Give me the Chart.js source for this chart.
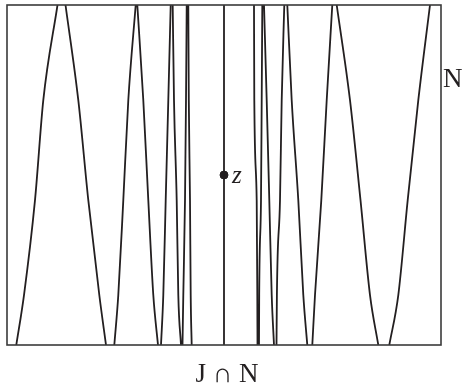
<!DOCTYPE html>
<html>
<head>
<meta charset="utf-8">
<script src="https://cdn.jsdelivr.net/npm/chart.js@4"></script>
<style>
  html, body { margin: 0; padding: 0; background: #fff; }
  #wrap { width: 470px; height: 391px; }
</style>
</head>
<body>
<div id="wrap"><canvas id="myChart" width="470" height="391"></canvas></div>
<script>
// curve: x in picture units, y from 0 (bottom edge) to 1 (top edge);
// null marks where the curve leaves the frame (peak / trough outside the box)
const leftX = [16.3, 24, 35, 43.3, 57.5, 61.5, 65.5, 78.3, 88.3, 99.3, 106, 110,
    114.3, 118.3, 123.3, 128.3, 135.7, 136.5, 137.3, 143.3, 148.3, 153.3, 158, 159.5,
    161, 163.3, 165.7, 168.3, 170.7, 171.7, 172.7, 174, 176.7, 178.3, 181, 181.8,
    182.5, 183.3, 185, 186, 186.7, 187.5, 188.3, 188.8, 190, 190.7, 191.7];
const leftY = [0, 0.147, 0.426, 0.72, 1, null, 1, 0.72, 0.426, 0.147, 0, null,
    0, 0.147, 0.426, 0.72, 1, null, 1, 0.72, 0.426, 0.147, 0, null,
    0, 0.147, 0.426, 0.72, 1, null, 1, 0.72, 0.426, 0.147, 0, null,
    0, 0.147, 0.426, 0.72, 1, null, 1, 0.72, 0.426, 0.147, 0];

const rightX = [254, 254.3, 256.7, 257.3, 257.5, 258.2,
    259, 259.2, 261, 261.7, 262.3, 263.2, 264, 266.7, 269.3, 271.7, 274, 275.3,
    276.5, 276.9, 280, 281.7, 284.3, 285.8, 287.3, 291.7, 298.3, 303.3, 307.3, 309.8,
    312.3, 315, 321.3, 326.7, 332.3, 334.5, 336.7, 350, 360.5, 370, 378.3, 383.8,
    389.3, 398.3, 407.7, 418.3, 430];
const rightY = [1, 0.72, 0.426, 0.147, 0, null,
    0, 0.147, 0.426, 0.72, 1, null, 1, 0.72, 0.426, 0.147, 0, null,
    0, 0.147, 0.426, 0.72, 1, null, 1, 0.72, 0.426, 0.147, 0, null,
    0, 0.147, 0.426, 0.72, 1, null, 1, 0.72, 0.426, 0.147, 0, null,
    0, 0.147, 0.426, 0.72, 1];

const stemX = [224, 224];
const stemY = [0, 1];
const pointZ = { x: 224, y: 0.5 };

const toPoints = (xs, ys) => xs.map((x, i) => ({ x: x, y: ys[i] }));

const INK = '#231f20';

const curveStyle = {
    showLine: true,
    spanGaps: false,
    borderColor: INK,
    borderWidth: 1.8,
    pointRadius: 0,
    cubicInterpolationMode: 'monotone',
    fill: false
};

// frame + text labels
const figurePlugin = {
    id: 'figure',
    afterDatasetsDraw(chart) {
        const { ctx, chartArea: a } = chart;
        ctx.save();
        ctx.strokeStyle = '#3a3a3a';
        ctx.lineWidth = 1.6;
        ctx.strokeRect(a.left, a.top, a.right - a.left, a.bottom - a.top);

        ctx.fillStyle = INK;
        ctx.textBaseline = 'alphabetic';
        ctx.font = 'italic 25px "Liberation Serif", "DejaVu Serif", serif';
        ctx.textAlign = 'left';
        ctx.fillText('z', 232, 183);

        ctx.font = '27px "Liberation Serif", "DejaVu Serif", serif';
        ctx.fillText('N', 443, 87);
        ctx.textAlign = 'center';
        ctx.fillText('J \u2229 N', 227, 382);
        ctx.restore();
    }
};

const data = {
    datasets: [
        Object.assign({ label: 'left', data: toPoints(leftX, leftY) }, curveStyle),
        Object.assign({ label: 'right', data: toPoints(rightX, rightY) }, curveStyle),
        {
            label: 'stem',
            data: toPoints(stemX, stemY),
            showLine: true,
            borderColor: INK,
            borderWidth: 1.8,
            pointRadius: 0
        },
        {
            label: 'z',
            data: [pointZ],
            showLine: false,
            pointRadius: 4,
            pointBackgroundColor: INK,
            pointBorderColor: INK
        }
    ]
};

const config = {
    type: 'scatter',
    data: data,
    options: {
        responsive: false,
        animation: false,
        layout: {
            padding: { left: 7, top: 5, right: 29, bottom: 46 }
        },
        plugins: {
            legend: { display: false },
            tooltip: { enabled: false }
        },
        scales: {
            x: { type: 'linear', min: 7, max: 441, display: false },
            y: { type: 'linear', min: 0, max: 1, display: false }
        }
    },
    plugins: [figurePlugin]
};

const ctx = document.getElementById('myChart').getContext('2d');
const myChart = new Chart(ctx, config);
</script>
</body>
</html>
